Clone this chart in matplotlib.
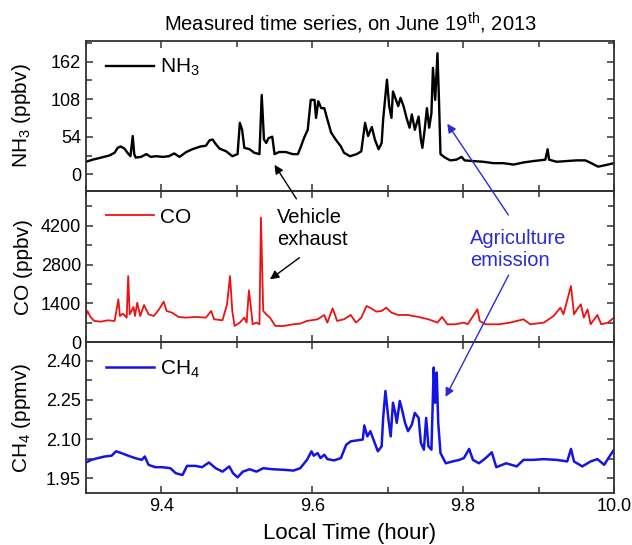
import matplotlib
matplotlib.use("Agg")
from matplotlib import pyplot as plt
from matplotlib.ticker import MultipleLocator, FixedLocator

plt.rcParams['font.family'] = ['Liberation Sans', 'DejaVu Sans']
plt.rcParams['mathtext.fontset'] = 'custom'
plt.rcParams['mathtext.rm'] = 'Liberation Sans'
plt.rcParams['mathtext.it'] = 'Liberation Sans:italic'

# NH3 (ppbv)
nh3_t = [9.300, 9.309, 9.320, 9.331, 9.338, 9.342, 9.346, 9.351, 9.355, 9.359,
         9.362, 9.364, 9.366, 9.373, 9.380, 9.386, 9.393, 9.402, 9.410, 9.417,
         9.424, 9.433, 9.441, 9.452, 9.459, 9.464, 9.468, 9.471, 9.477, 9.486,
         9.494, 9.501, 9.504, 9.507, 9.510, 9.517, 9.523, 9.530, 9.533, 9.536,
         9.539, 9.542, 9.547, 9.550, 9.556, 9.565, 9.574, 9.581, 9.585, 9.589,
         9.594, 9.598, 9.603, 9.605, 9.608, 9.612, 9.616, 9.620, 9.625, 9.631,
         9.638, 9.642, 9.650, 9.659, 9.665, 9.670, 9.674, 9.679, 9.683, 9.688,
         9.692, 9.694, 9.699, 9.702, 9.705, 9.707, 9.711, 9.714, 9.717, 9.721,
         9.725, 9.729, 9.732, 9.736, 9.741, 9.744, 9.746, 9.749, 9.752, 9.755,
         9.758, 9.760, 9.763, 9.766, 9.768, 9.770, 9.776, 9.783, 9.791, 9.798,
         9.802, 9.813, 9.827, 9.840, 9.853, 9.867, 9.880, 9.893, 9.909, 9.912,
         9.914, 9.924, 9.937, 9.950, 9.962, 9.968, 9.979, 9.988, 10.000]
nh3 = [18, 21, 24, 27, 31, 38, 40, 37, 31, 26,
       55, 29, 24, 25, 29, 25, 26, 25, 26, 30,
       25, 32, 36, 40, 41, 49, 50, 45, 37, 33,
       26, 29, 74, 64, 38, 36, 31, 29, 114, 50,
       45, 52, 54, 29, 32, 32, 29, 29, 40, 52,
       64, 107, 107, 81, 105, 95, 95, 79, 60, 50,
       40, 31, 26, 29, 33, 74, 55, 68, 50, 36,
       45, 79, 136, 98, 81, 119, 107, 98, 110, 98,
       81, 67, 86, 64, 83, 50, 38, 64, 95, 67,
       88, 153, 107, 174, 107, 29, 24, 20, 21, 25,
       20, 19, 18, 16, 16, 14, 17, 19, 21, 36,
       21, 18, 19, 20, 20, 17, 11, 13, 16]

# CO (ppbv)
co_t = [9.300, 9.302, 9.306, 9.311, 9.320, 9.329, 9.338, 9.343, 9.345, 9.349,
        9.354, 9.356, 9.358, 9.363, 9.365, 9.368, 9.372, 9.377, 9.383, 9.390,
        9.397, 9.403, 9.407, 9.414, 9.423, 9.432, 9.445, 9.459, 9.466, 9.470,
        9.481, 9.487, 9.491, 9.494, 9.497, 9.504, 9.510, 9.513, 9.516, 9.518,
        9.521, 9.526, 9.530, 9.532, 9.535, 9.539, 9.544, 9.551, 9.562, 9.575,
        9.584, 9.593, 9.607, 9.616, 9.620, 9.627, 9.633, 9.642, 9.651, 9.658,
        9.665, 9.672, 9.678, 9.685, 9.692, 9.698, 9.705, 9.714, 9.727, 9.741,
        9.754, 9.766, 9.772, 9.779, 9.790, 9.801, 9.806, 9.819, 9.822, 9.830,
        9.848, 9.862, 9.880, 9.889, 9.907, 9.920, 9.929, 9.933, 9.943, 9.947,
        9.951, 9.956, 9.960, 9.965, 9.969, 9.978, 9.983, 9.992, 10.000]
co = [948, 1128, 912, 768, 744, 792, 768, 1548, 948, 1032,
      888, 2388, 1008, 1272, 948, 1428, 948, 1344, 1008, 948,
      1188, 1464, 1128, 1068, 912, 888, 912, 888, 1128, 828,
      792, 1368, 2388, 1128, 588, 708, 888, 708, 1872, 1428,
      648, 708, 648, 4500, 1128, 1008, 888, 588, 588, 648,
      672, 768, 828, 984, 708, 1224, 768, 828, 984, 708,
      888, 1308, 1224, 1104, 1128, 1248, 1068, 984, 984, 912,
      828, 708, 912, 648, 648, 708, 648, 1188, 768, 648,
      648, 708, 828, 648, 708, 948, 1248, 1008, 2028, 1008,
      1188, 1368, 888, 1188, 648, 984, 648, 708, 888]

# CH4 (ppmv)
ch4_t = [9.300, 9.307, 9.316, 9.325, 9.334, 9.340, 9.347, 9.356, 9.365, 9.374,
         9.378, 9.383, 9.392, 9.401, 9.412, 9.419, 9.428, 9.434, 9.445, 9.454,
         9.463, 9.472, 9.481, 9.490, 9.495, 9.501, 9.508, 9.517, 9.526, 9.535,
         9.548, 9.562, 9.575, 9.584, 9.593, 9.599, 9.602, 9.607, 9.611, 9.616,
         9.620, 9.629, 9.638, 9.645, 9.651, 9.660, 9.667, 9.669, 9.673, 9.677,
         9.682, 9.687, 9.692, 9.694, 9.697, 9.701, 9.704, 9.707, 9.710, 9.712,
         9.716, 9.719, 9.723, 9.727, 9.732, 9.736, 9.741, 9.744, 9.748, 9.751,
         9.754, 9.758, 9.761, 9.763, 9.765, 9.767, 9.770, 9.777, 9.786, 9.795,
         9.801, 9.808, 9.813, 9.821, 9.830, 9.838, 9.844, 9.857, 9.871, 9.880,
         9.893, 9.907, 9.924, 9.938, 9.943, 9.947, 9.958, 9.969, 9.978, 9.987,
         9.994, 10.000]
ch4 = [2.010, 2.020, 2.027, 2.033, 2.036, 2.053, 2.046, 2.036, 2.027, 2.020,
       2.033, 2.001, 1.992, 1.992, 1.988, 1.969, 1.962, 1.997, 1.997, 1.992,
       2.010, 1.988, 1.975, 1.995, 1.969, 1.953, 1.975, 1.984, 1.975, 1.988,
       1.984, 1.982, 1.979, 1.988, 2.020, 2.053, 2.036, 2.046, 2.027, 2.040,
       2.023, 2.018, 2.027, 2.078, 2.091, 2.095, 2.098, 2.152, 2.110, 2.130,
       2.091, 2.053, 2.072, 2.181, 2.284, 2.175, 2.110, 2.239, 2.200, 2.162,
       2.246, 2.213, 2.162, 2.130, 2.155, 2.200, 2.181, 2.085, 2.059, 2.181,
       2.072, 2.059, 2.374, 2.239, 2.355, 2.162, 2.046, 2.007, 2.014, 2.020,
       2.027, 2.062, 2.020, 2.007, 2.027, 2.049, 1.992, 2.007, 1.995, 2.020,
       2.020, 2.023, 2.020, 2.014, 2.062, 2.014, 1.995, 2.014, 2.023, 2.001,
       2.033, 2.059]

nh3_ticks = [0, 54, 108, 162]
co_ticks = [0, 1400, 2800, 4200]
ch4_ticks = [1.95, 2.10, 2.25, 2.40]
x_ticks = [9.4, 9.6, 9.8, 10.0]

agri_blue = '#2b2bd6'

fig, (ax1, ax2, ax3) = plt.subplots(3, 1, sharex=True, figsize=(6.32, 5.45), dpi=100)
fig.subplots_adjust(left=0.136, right=0.9715, top=0.9253, bottom=0.0954, hspace=0)

ax1.plot(nh3_t, nh3, color='black', lw=1.7, label='NH$_3$')
ax2.plot(co_t, co, color='#ee1111', lw=1.3, label='CO')
ax3.plot(ch4_t, ch4, color='#1414e6', lw=1.8, label='CH$_4$')

ax1.set_ylim(-24.7, 192)
ax2.set_ylim(0, 5440)
ax3.set_ylim(1.893, 2.471)
ax3.set_xlim(9.3, 10.0)

ax1.set_ylabel('NH$_3$ (ppbv)', fontsize=15)
ax2.set_ylabel('CO (ppbv)', fontsize=15)
ax3.set_ylabel('CH$_4$ (ppmv)', fontsize=15)
ax3.set_xlabel('Local Time (hour)', fontsize=16, labelpad=6)
ax1.set_title('Measured time series, on June 19$^{\\rm th}$, 2013', fontsize=14.5, pad=7)

for ax, ticks in [(ax1, nh3_ticks), (ax2, co_ticks), (ax3, ch4_ticks)]:
    ax.yaxis.set_major_locator(FixedLocator(ticks))
    step = ticks[1] - ticks[0]
    ax.yaxis.set_minor_locator(MultipleLocator(step / 2))
    ax.xaxis.set_major_locator(FixedLocator(x_ticks))
    ax.xaxis.set_minor_locator(MultipleLocator(0.1))
    ax.tick_params(which='both', direction='in', top=True, right=True,
                   labelsize=13, color='#333333', width=1.1)
    ax.tick_params(which='major', length=5)
    ax.tick_params(which='minor', length=4)
    for s in ax.spines.values():
        s.set_color('#333333')
        s.set_linewidth(1.3)
    ax.legend(loc='upper left', frameon=False, fontsize=15, handlelength=2.3,
              handletextpad=0.3, borderaxespad=0.3, bbox_to_anchor=(0.01, 0.99))
    ax.set_facecolor('none')
    ax.yaxis.set_label_coords(-0.10, 0.5)

ax2.set_yticklabels(['0', '1400', '2800', '4200'])
ax3.set_yticklabels(['1.95', '2.10', '2.25', '2.40'])
ax3.set_xticklabels(['9.4', '9.6', '9.8', '10.0'])

# annotations (drawn on the last axes so they sit on top)
ax3.text(9.553, 4100, 'Vehicle\nexhaust', transform=ax2.transData, fontsize=14.5,
         ha='left', va='center', linespacing=1.15)
ax3.annotate('', xy=(9.548, 17), xycoords=ax1.transData,
             xytext=(9.581, 5090), textcoords=ax2.transData,
             arrowprops=dict(arrowstyle='-|>', color='black', lw=1.0, mutation_scale=13),
             annotation_clip=False)
ax3.annotate('', xy=(9.541, 2210), xycoords=ax2.transData,
             xytext=(9.586, 3110), textcoords=ax2.transData,
             arrowprops=dict(arrowstyle='-|>', color='black', lw=1.0, mutation_scale=13),
             annotation_clip=False)

ax3.text(9.809, 3350, 'Agriculture\nemission', transform=ax2.transData, fontsize=14.5,
         ha='left', va='center', color=agri_blue, linespacing=1.15)
ax3.annotate('', xy=(9.777, 76), xycoords=ax1.transData,
             xytext=(9.862, 4510), textcoords=ax2.transData,
             arrowprops=dict(arrowstyle='-|>', color=agri_blue, lw=1.0, mutation_scale=13),
             annotation_clip=False)
ax3.annotate('', xy=(9.775, 2.252), xycoords=ax3.transData,
             xytext=(9.862, 2510), textcoords=ax2.transData,
             arrowprops=dict(arrowstyle='-|>', color=agri_blue, lw=1.0, mutation_scale=13),
             annotation_clip=False)

plt.savefig('out.png', dpi=100)
